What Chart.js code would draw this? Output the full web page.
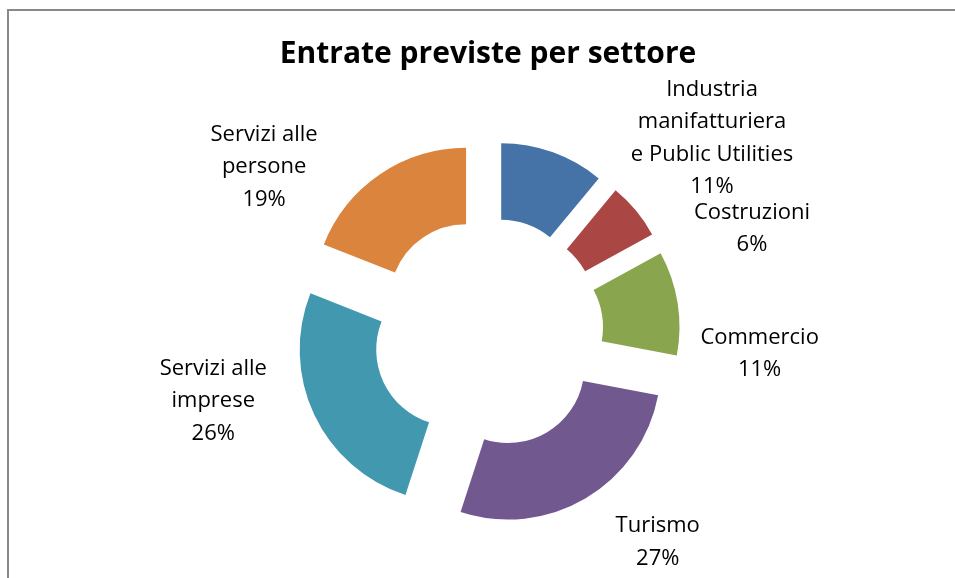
<!DOCTYPE html>
<html>
<head>
<meta charset="utf-8">
<script src="https://cdn.jsdelivr.net/npm/chart.js@4"></script>
<style>
  html, body { margin: 0; padding: 0; background: #fff; }
  #wrap { position: relative; width: 955px; height: 578px; overflow: hidden; }
  #frame { position: absolute; left: 7px; top: 9px; width: 1000px; height: 1000px; border: 2px solid #898989; box-sizing: border-box; }
  #chart { position: absolute; left: 0; top: 0; }
</style>
</head>
<body>
<div id="wrap">
  <div id="frame"></div>
  <canvas id="chart" width="955" height="578"></canvas>
</div>
<script>
// dati del grafico
const settori = [
  ['Industria', 'manifatturiera', 'e Public Utilities'],
  ['Costruzioni'],
  ['Commercio'],
  ['Turismo'],
  ['Servizi alle', 'imprese'],
  ['Servizi alle', 'persone']
];
const quote = [11, 6, 11, 27, 26, 19];

const colori = ['#4572A7', '#AA4643', '#89A54E', '#71588F', '#4198AF', '#DB843D'];
// etichette spostate a mano (come in Excel), rispetto al bordo esterno della fetta
const spostamentiEtichette = [[159, -14], [116, 18], [82, 51], [72, 44], [-101, -14], [-116, -7]];
const esplosione = 39;

// allontana ogni fetta dal centro lungo la sua bisettrice
const esplodi = {
  id: 'esplodi',
  afterDatasetUpdate(chart, args) {
    args.meta.data.forEach(arc => {
      const a = (arc.startAngle + arc.endAngle) / 2;
      arc.x += Math.cos(a) * esplosione;
      arc.y += Math.sin(a) * esplosione;
    });
  }
};

// etichette con nome e percentuale
const etichette = {
  id: 'etichette',
  afterDatasetsDraw(chart) {
    const ctx = chart.ctx;
    const meta = chart.getDatasetMeta(0);
    const totale = quote.reduce((s, v) => s + v, 0);
    ctx.save();
    ctx.font = '22px "Open Sans"';
    ctx.fillStyle = '#000';
    ctx.textAlign = 'center';
    ctx.textBaseline = 'middle';
    meta.data.forEach((arc, i) => {
      const a = (arc.startAngle + arc.endAngle) / 2;
      const x = arc.x + Math.cos(a) * arc.outerRadius + spostamentiEtichette[i][0];
      const y = arc.y + Math.sin(a) * arc.outerRadius + spostamentiEtichette[i][1];
      const righe = settori[i].concat(Math.round(quote[i] / totale * 100) + '%');
      righe.forEach((t, k) => {
        ctx.fillText(t, x, y + (k - (righe.length - 1) / 2) * 32.5);
      });
    });
    ctx.restore();
  }
};

const ctx = document.getElementById('chart').getContext('2d');
new Chart(ctx, {
  type: 'doughnut',
  data: {
    labels: settori.map(s => s.join(' ')),
    datasets: [{
      data: quote,
      backgroundColor: colori,
      borderWidth: 0
    }]
  },
  options: {
    responsive: false,
    devicePixelRatio: 1,
    animation: false,
    events: [],
    radius: 153,
    cutout: '50%',
    layout: { padding: { left: 21, right: 0, top: 0, bottom: 0 } },
    plugins: {
      legend: { display: false },
      tooltip: { enabled: false },
      title: {
        display: true,
        text: 'Entrate previste per settore',
        color: '#000',
        font: { family: 'Open Sans', size: 30, weight: 'bold', lineHeight: 1.2 },
        padding: { top: 36, bottom: 16 }
      }
    }
  },
  plugins: [esplodi, etichette]
});
</script>
</body>
</html>
